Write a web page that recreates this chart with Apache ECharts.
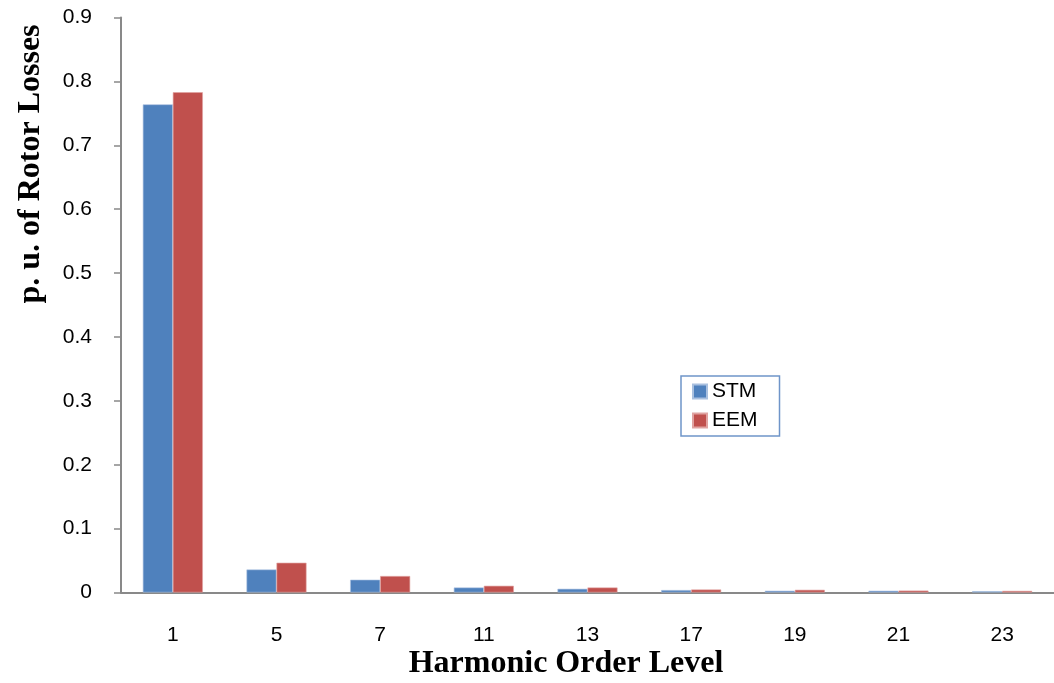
<!DOCTYPE html>
<html><head><meta charset="utf-8">
<script src="https://cdn.jsdelivr.net/npm/echarts@6/dist/echarts.min.js"></script>
<style>html,body{margin:0;padding:0;background:#fff}#c{width:1054px;height:683px}</style>
</head><body><div id="c"></div>
<script>
const categories = ['1','5','7','11','13','17','19','21','23'];
const stmValues = [0.764, 0.036, 0.020, 0.0078, 0.0058, 0.0038, 0.0027, 0.0027, 0.0020];
const eemValues = [0.783, 0.0466, 0.0258, 0.0105, 0.0078, 0.0047, 0.0042, 0.0030, 0.0025];
const seriesNames = ['STM', 'EEM'];
const yTitle = 'p. u. of Rotor Losses';
const xTitle = 'Harmonic Order Level';

const chart = echarts.init(document.getElementById('c'));
const labelFont = 'Liberation Sans';
chart.setOption({
  animation: false,
  grid: {left: 121, top: 17.5, width: 939, height: 575},
  legend: {
    data: seriesNames, orient: 'vertical', left: 681, top: 376,
    itemWidth: 14, itemHeight: 14, itemGap: 8, icon: 'rect',
    textStyle: {fontFamily: labelFont, fontSize: 21, color: '#000', padding: [0,0,0,0]},
    borderColor: '#6f95c9', borderWidth: 1.5, padding: [5, 22, 5, 11]
  },
  xAxis: {
    type: 'category', data: categories,
    axisLine: {lineStyle: {color: '#898989', width: 2}},
    axisTick: {show: false},
    axisLabel: {color: '#000', fontFamily: labelFont, fontSize: 21, margin: 32}
  },
  yAxis: {
    type: 'value', min: 0, max: 0.9, interval: 0.1,
    splitLine: {show: false},
    axisLine: {show: true, lineStyle: {color: '#898989', width: 2}},
    axisTick: {show: true, length: 7, lineStyle: {color: '#898989', width: 1.5}},
    axisLabel: {color: '#000', fontFamily: labelFont, fontSize: 21, margin: 29,
      formatter: v => (Math.round(v*10)/10).toString()}
  },
  graphic: [
    {type: 'text', x: 566, y: 664,
      style: {text: xTitle, font: 'bold 32px "Liberation Serif"', fill: '#000', textAlign: 'center', textVerticalAlign: 'middle'}},
    {type: 'text', x: 31, y: 164, rotation: Math.PI/2,
      style: {text: yTitle, font: 'bold 32px "Liberation Serif"', fill: '#000', textAlign: 'center', textVerticalAlign: 'middle'}}
  ],
  series: [
    {name: seriesNames[0], type: 'bar', data: stmValues, barWidth: 30, barGap: '0%',
      itemStyle: {color: '#4f81bd', borderColor: '#a9c0df', borderWidth: 0.6}},
    {name: seriesNames[1], type: 'bar', data: eemValues, barWidth: 30, barGap: '0%',
      itemStyle: {color: '#c0504d', borderColor: '#e0a3a1', borderWidth: 0.6}}
  ]
});
</script></body></html>
